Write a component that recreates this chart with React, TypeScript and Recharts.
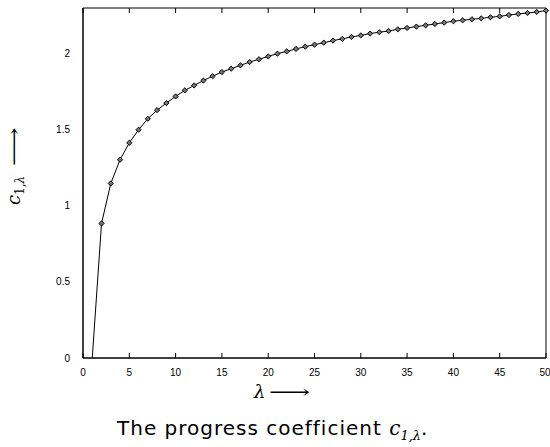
import { LineChart, Line, XAxis, YAxis } from "recharts";

const lambdas = [
  1, 2, 3, 4, 5, 6, 7, 8, 9, 10, 11, 12, 13, 14, 15, 16, 17, 18, 19, 20, 21, 22, 23, 24, 25,
  26, 27, 28, 29, 30, 31, 32, 33, 34, 35, 36, 37, 38, 39, 40, 41, 42, 43, 44, 45, 46, 47, 48, 49, 50,
];
const c1Values = [
  0, 0.884, 1.147, 1.303, 1.414, 1.5, 1.572, 1.629, 1.675, 1.719, 1.759, 1.791, 1.823, 1.852,
  1.879, 1.901, 1.923, 1.945, 1.963, 1.982, 2.0, 2.015, 2.031, 2.046, 2.059, 2.072, 2.086, 2.097,
  2.11, 2.12, 2.132, 2.141, 2.149, 2.16, 2.169, 2.178, 2.186, 2.195, 2.204, 2.213, 2.219, 2.226,
  2.232, 2.239, 2.245, 2.254, 2.261, 2.267, 2.274, 2.283,
];
const xTicks = [0, 5, 10, 15, 20, 25, 30, 35, 40, 45, 50];
const yTicks = [0, 0.5, 1, 1.5, 2];

const data = lambdas.map((lambda, i) => ({ lambda, c: c1Values[i] }));

const tickFont = { fontSize: 10, fill: "#000", fontFamily: "Liberation Sans, Arial, sans-serif" };
const noLabel = () => "";

function Diamond(props: any) {
  const { cx, cy, index } = props;
  if (index === 0 || cx == null || cy == null) return <g key={`d-${index}`} />;
  const r = 2.6;
  return (
    <polygon
      key={`d-${index}`}
      points={`${cx},${cy - r} ${cx + r},${cy} ${cx},${cy + r} ${cx - r},${cy}`}
      fill="#777"
      stroke="#000"
      strokeWidth={1}
    />
  );
}

const arrow = (scale: number) => (
  <span style={{ display: "inline-block", transform: `scaleX(${scale})`, transformOrigin: "left center" }}>⟶</span>
);

export default function App() {
  return (
    <div style={{ position: "absolute", left: 0, top: 0, width: 550, height: 447, background: "#fff" }}>
      <LineChart width={550} height={447} data={data} margin={{ top: 8, right: 4, left: 0, bottom: 69 }}>
        <XAxis
          xAxisId="b"
          dataKey="lambda"
          type="number"
          domain={[0, 50]}
          ticks={xTicks}
          height={20}
          tickLine={false}
          tickMargin={5}
          tick={tickFont}
          stroke="#000"
        />
        <XAxis
          xAxisId="bm"
          dataKey="lambda"
          type="number"
          domain={[0, 50]}
          ticks={xTicks}
          height={20}
          mirror
          tickSize={5}
          tickFormatter={noLabel}
          stroke="#000"
        />
        <XAxis
          xAxisId="t"
          orientation="top"
          dataKey="lambda"
          type="number"
          domain={[0, 50]}
          ticks={xTicks}
          height={20}
          mirror
          tickSize={5}
          tickFormatter={noLabel}
          stroke="#000"
        />
        <YAxis
          yAxisId="l"
          type="number"
          domain={[0, 2.3]}
          ticks={yTicks}
          width={83}
          tickLine={false}
          tickMargin={7}
          tick={tickFont}
          stroke="#000"
        />
        <YAxis
          yAxisId="lm"
          type="number"
          domain={[0, 2.3]}
          ticks={yTicks}
          width={20}
          mirror
          tickSize={5}
          tickFormatter={noLabel}
          stroke="#000"
        />
        <YAxis
          yAxisId="r"
          orientation="right"
          type="number"
          domain={[0, 2.3]}
          ticks={yTicks}
          width={20}
          mirror
          tickSize={5}
          tickFormatter={noLabel}
          stroke="#000"
        />
        <Line
          xAxisId="b"
          yAxisId="l"
          type="linear"
          dataKey="c"
          stroke="#000"
          strokeWidth={1}
          dot={Diamond}
          activeDot={false}
          isAnimationActive={false}
        />
      </LineChart>
      <div
        style={{
          position: "absolute",
          left: 15,
          top: 162,
          transform: "translate(-50%, -50%) rotate(-90deg)",
          whiteSpace: "nowrap",
          fontFamily: "DejaVu Serif, serif",
          fontSize: 18,
          width: 86,
        }}
      >
        <i>c</i>
        <sub style={{ fontSize: 12 }}>1,<i>λ</i></sub>
        <span style={{ marginLeft: 10 }}>{arrow(1.5)}</span>
      </div>
      <div
        style={{
          position: "absolute",
          left: 254,
          top: 381,
          whiteSpace: "nowrap",
          fontFamily: "DejaVu Serif, serif",
          fontSize: 18,
          width: 60,
        }}
      >
        <i>λ</i>
        <span style={{ marginLeft: 4 }}>{arrow(1.6)}</span>
      </div>
      <div
        style={{
          position: "absolute",
          left: 117,
          top: 416,
          whiteSpace: "nowrap",
          fontFamily: "DejaVu Sans, sans-serif",
          fontSize: 20,
          letterSpacing: 1,
        }}
      >
        The progress coefficient{" "}
        <span style={{ fontFamily: "DejaVu Serif, serif", fontStyle: "italic", letterSpacing: 0 }}>
          c<sub style={{ fontSize: 13 }}>1,λ</sub>
        </span>
        .
      </div>
    </div>
  );
}
